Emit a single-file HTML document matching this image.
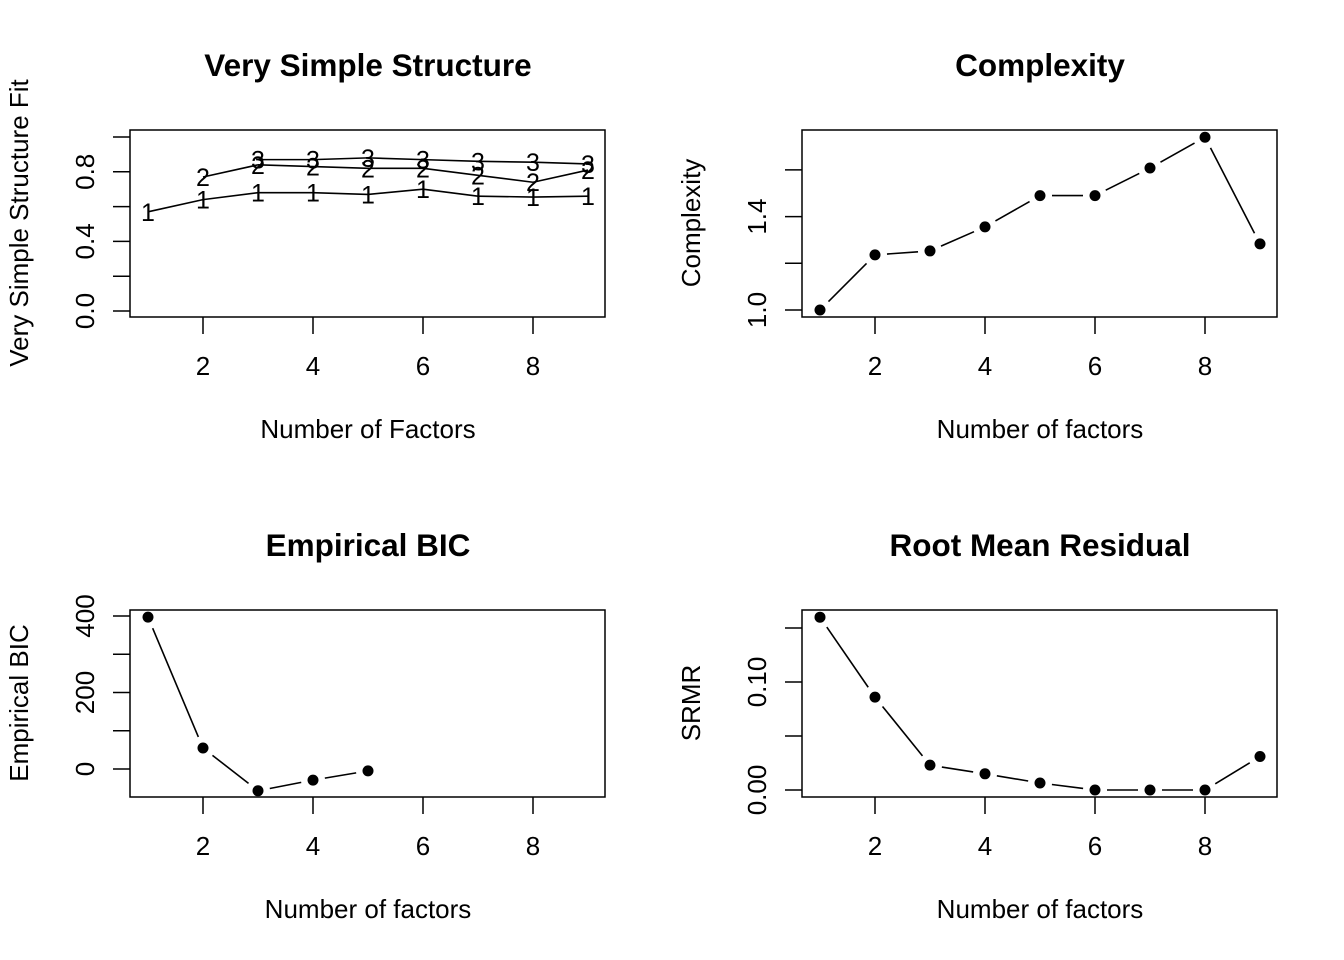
<!DOCTYPE html>
<html><head><meta charset="utf-8"><style>
body{margin:0;background:#fff}
svg{display:block;font-family:"Liberation Sans",Arial,sans-serif}
</style></head><body>
<svg id="c" width="1344" height="960"></svg>
<script>
const factors=[1,2,3,4,5,6,7,8,9];
const vss1=[0.57,0.64,0.68,0.68,0.67,0.70,0.66,0.655,0.66];
const vss2=[null,0.77,0.84,0.83,0.82,0.82,0.78,0.74,0.81];
const vss3=[null,null,0.87,0.87,0.88,0.87,0.86,0.855,0.845];
const complexity=[1.0,1.236,1.253,1.356,1.49,1.49,1.608,1.74,1.283];
const bic=[397,55,-57,-29,-5];
const srmr=[0.160,0.086,0.023,0.015,0.0065,0,0,0,0.031];
const xTicks=[2,4,6,8];
const NS="http://www.w3.org/2000/svg";
const svg=document.getElementById('c');
function mk(tag,attrs,parent){const e=document.createElementNS(NS,tag);for(const k in attrs)e.setAttribute(k,attrs[k]);(parent||svg).appendChild(e);return e;}
function panel(cfg){
  const g=mk('g',{});
  
  
  const L=cfg.x0,R=L+475,T=cfg.y0,B=T+187;
  const sx=v=>L+18+(v-1)*55;
  const sy=v=>cfg.yPix0+(v-cfg.yV0)*cfg.yScale;
  const box=mk('rect',{x:L,y:T,width:475,height:187,fill:'none',stroke:'#000','stroke-width':1.5},g);
  
  
  xTicks.forEach(t=>{
    mk('line',{x1:sx(t),x2:sx(t),y1:B,y2:B+17,stroke:'#000','stroke-width':1.5},g);
    const tx=mk('text',{x:sx(t),y:B+58,'font-size':26,'text-anchor':'middle'},g);tx.textContent=t;
    
    
  });
  cfg.yTicks.forEach(t=>{
    const y=sy(t);
    mk('line',{x1:L,x2:L-17,y1:y,y2:y,stroke:'#000','stroke-width':1.5},g);
  });
  cfg.yLabels.forEach((lab,i)=>{
    const y=sy(cfg.yLabelVals[i]);
    const tx=mk('text',{x:0,y:0,'font-size':26,'text-anchor':'middle',transform:`translate(${L-36},${y}) rotate(-90)`},g);
    tx.textContent=lab;
    
    
  });
  const ti=mk('text',{x:L+238,y:T-54,'font-size':31.5,'font-weight':'bold','text-anchor':'middle'},g);ti.textContent=cfg.title;
  
  
  const xl=mk('text',{x:L+238,y:B+121,'font-size':26,'text-anchor':'middle'},g);xl.textContent=cfg.xlab;
  
  
  const yl=mk('text',{x:0,y:0,'font-size':26,'text-anchor':'middle',transform:`translate(${L-102},${T+93}) rotate(-90)`},g);yl.textContent=cfg.ylab;
  
  
  return {g,sx,sy};
}
function seriesB(p,vals,gap){
  const pts=vals.map((v,i)=>v==null?null:[p.sx(factors[i]),p.sy(v)]);
  for(let i=0;i<pts.length-1;i++){
    const a=pts[i],b=pts[i+1];if(!a||!b)continue;
    const dx=b[0]-a[0],dy=b[1]-a[1],d=Math.hypot(dx,dy);
    if(d<=2*gap)continue;
    const ux=dx/d,uy=dy/d;
    mk('line',{x1:a[0]+ux*gap,y1:a[1]+uy*gap,x2:b[0]-ux*gap,y2:b[1]-uy*gap,stroke:'#000','stroke-width':1.6},p.g);
  }
  return pts;
}
const p1=panel({name:'vss-panel',x0:130,y0:130,yPix0:311,yV0:0,yScale:-174,yTicks:[0,0.2,0.4,0.6,0.8,1.0],yLabels:['0.0','0.4','0.8'],yLabelVals:[0,0.4,0.8],title:'Very Simple Structure',xlab:'Number of Factors',ylab:'Very Simple Structure Fit'});
[[vss1,'1'],[vss2,'2'],[vss3,'3']].forEach(([vals,lab])=>{
  const pts=seriesB(p1,vals,0);
  pts.forEach(pt=>{if(!pt)return;
    const t=mk('text',{x:pt[0],y:pt[1]+9,'font-size':25,'text-anchor':'middle'},p1.g);t.textContent=lab;
    
    
  });
});
function dots(p,vals,nm){
  const pts=seriesB(p,vals,12);
  pts.forEach(pt=>{if(!pt)return;
    const c=mk('circle',{cx:pt[0],cy:pt[1],r:5.5,fill:'#000'},p.g);
    
    
  });
}
const p2=panel({name:'complexity-panel',x0:802,y0:130,yPix0:310,yV0:1,yScale:-233.5,yTicks:[1.0,1.2,1.4,1.6],yLabels:['1.0','1.4'],yLabelVals:[1.0,1.4],title:'Complexity',xlab:'Number of factors',ylab:'Complexity'});
dots(p2,complexity,'complexity-point');
const p3=panel({name:'bic-panel',x0:130,y0:610,yPix0:769,yV0:0,yScale:-0.3825,yTicks:[0,100,200,300,400],yLabels:['0','200','400'],yLabelVals:[0,200,400],title:'Empirical BIC',xlab:'Number of factors',ylab:'Empirical BIC'});
dots(p3,bic,'bic-point');
const p4=panel({name:'rmr-panel',x0:802,y0:610,yPix0:790,yV0:0,yScale:-1080,yTicks:[0,0.05,0.10,0.15],yLabels:['0.00','0.10'],yLabelVals:[0,0.10],title:'Root Mean Residual',xlab:'Number of factors',ylab:'SRMR'});
dots(p4,srmr,'srmr-point');
</script>
</body></html>
